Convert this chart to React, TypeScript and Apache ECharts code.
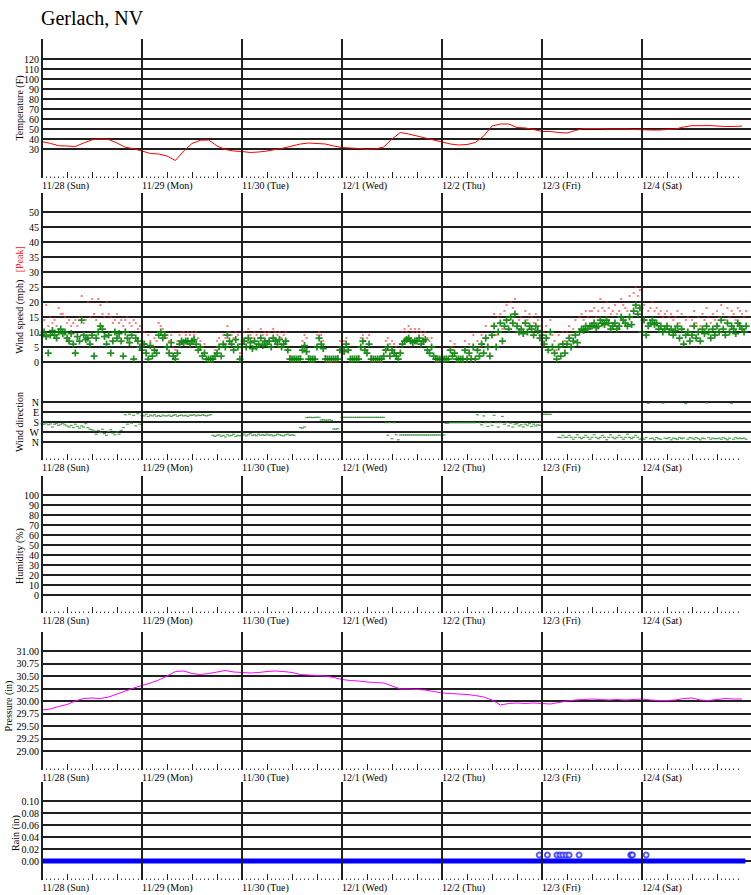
import React, { useEffect, useRef } from 'react';
import * as echarts from 'echarts';

// ---------- data (hours counted from 11/28 00:00) ----------
const DAY_LABELS = ['11/28 (Sun)', '11/29 (Mon)', '11/30 (Tue)', '12/1 (Wed)', '12/2 (Thu)', '12/3 (Fri)', '12/4 (Sat)'];

// temperature (F), one reading every 2 hours
const TEMP_STEP_H = 2;
const TEMP_F = [
  37.3, 35.6, 33.3, 33, 32.5, 36, 39.2, 40, 39.5, 36, 31.7, 30.2,
  28, 25.5, 25, 23, 18.5, 28, 35.5, 38.8, 39, 33, 29.5, 28,
  27.5, 26.5, 27, 28, 29.5, 31, 33, 35, 36, 35.5, 35, 33,
  31.5, 31, 30.5, 29.5, 30, 32, 40, 46.5, 45, 43, 41, 39,
  37, 35, 34, 34.5, 36.5, 43, 53, 55, 55, 51.5, 51, 49.5,
  47.5, 47.5, 46.5, 46, 48.5, 50.5, 50.5, 50.5, 50, 50, 50, 49.5,
  49.3, 49, 49, 49.5, 50, 52, 53.3, 53.3, 53.5, 53, 52.5, 52.5, 53,
];

// wind speed and peak (mph), one reading every 30 minutes
const WIND_STEP_H = 0.5;
const WIND_MPH = [
  9, 10, 8.5, 3, 9, 10.5, 9, 8, 10, 11, 9.5, 10,
  8, 7, 9.5, 6, 3, 8.5, 7, 14, 9, 7.5, 8, 6,
  9, 2, 8, 10, 12, 11, 8.5, 6, 9, 3, 7, 10,
  8, 9.5, 7, 2, 10, 8, 6.5, 9, 1, 8, 7, 5,
  4, 6, 3, 1, 5.5, 2, 4, 3, 9, 10, 8, 9,
  5, 3, 6.5, 2, 1, 3, 6, 7, 6.5, 7, 7, 6,
  7, 7.5, 6, 4, 5, 2, 3, 1, 1, 1, 1, 2,
  3, 5, 2, 6, 5, 9, 7, 6, 4, 7.5, 5, 1,
  6, 7, 5, 8, 6.5, 4.5, 7, 5, 6, 8, 5.5, 7,
  6, 7, 5, 8, 7, 6, 7.5, 5, 6, 7, 4, 1,
  1, 1, 1, 1, 1, 4, 5.5, 3.5, 1, 1, 1, 1,
  5, 8, 6, 4.5, 1, 1, 1, 1, 1, 1, 1, 4,
  5, 3.5, 6, 4, 1, 1, 1, 1, 1, 5, 7, 4,
  3, 6, 1, 1, 1, 1, 1, 1, 2, 4, 5, 2,
  4, 3, 2, 1, 3, 6, 7, 7.5, 8, 7, 6.5, 7,
  7, 8, 6, 7, 7.5, 4, 3, 5, 2, 1, 1, 1,
  1, 1, 1, 1, 4, 2, 3, 1, 1, 1, 1, 4,
  1, 3, 1, 5, 1, 4, 2, 6, 3, 8, 5, 2,
  9, 12, 5, 10, 13, 7, 12, 14, 11, 15, 13, 16,
  12, 10, 11, 9.5, 13, 10, 12, 11, 9, 12, 10.5, 8,
  9, 6, 8, 4, 10, 5, 3, 1, 5, 2, 6, 3,
  6, 8, 5, 7, 9, 6.5, 10, 11, 10.5, 12, 11, 12,
  12, 13, 11.5, 12, 14, 13, 12.5, 14, 13, 11, 12, 13,
  11, 12, 15, 14, 13, 12, 15, 12.5, 17, 19, 16, 18,
  10, 14, 9, 12, 13, 14, 12.5, 13, 11, 12, 10, 11,
  12, 10, 11, 9, 10.5, 12, 8, 11, 6, 9, 10, 7,
  9, 12, 8, 10, 7, 11, 9.5, 12, 10, 8, 11, 9,
  12, 10, 14, 11, 9, 13, 10, 12, 11, 9.5, 13, 12,
  11, 10, 12,
];
const PEAK_MPH = [
  13, 14, 19, 12, 15, 13, 14, 12, 18, 16, 16, 15,
  13, 14, 12, 13, 14, 12, 15, 22, 13, 14, 20, 15,
  21, 16, 14, 21, 19, 16, 15, 20, 16, 15, 13, 14,
  16, 13, 14, 12, 14, 15, 13, 12, 14, 13, 11, 12,
  8, 10, 6, 9, 7, 5, 8, 7, 13, 12, 11, 10,
  8, 7, 9, 5, 4, 7, 9, 10, 10, 9, 10, 9,
  10, 9, 10, 8, 7, 5, 6, 1, 0, 0, 1, 4,
  7, 8, 5, 9, 8, 12, 10, 9, 8, 10, 9, 3,
  9, 10, 8, 11, 9, 8, 10, 9, 8, 11, 9, 10,
  9, 10, 8, 11, 10, 9, 10, 8, 9, 10, 7, 2,
  0, 0, 1, 0, 2, 7, 9, 8, 2, 0, 0, 1,
  9, 10, 9, 7, 2, 0, 0, 0, 1, 0, 2, 7,
  9, 7, 8, 6, 0, 0, 1, 0, 2, 8, 9, 7,
  8, 9, 2, 0, 0, 1, 0, 0, 4, 7, 8, 6,
  7, 6, 5, 3, 6, 10, 11, 10, 12, 11, 10, 11,
  10, 11, 10, 9, 10, 8, 7, 8, 5, 0, 0, 1,
  0, 0, 0, 1, 7, 5, 6, 0, 0, 1, 0, 7,
  0, 6, 2, 9, 0, 7, 5, 9, 6, 12, 8, 5,
  12, 16, 9, 15, 16, 11, 17, 19, 14, 20, 18, 21,
  16, 14, 15, 13, 17, 14, 16, 15, 13, 16, 14, 12,
  13, 10, 12, 8, 14, 9, 7, 4, 9, 6, 10, 7,
  10, 12, 9, 11, 14, 10, 15, 16, 14, 17, 15, 17,
  17, 18, 15, 17, 21, 18, 17, 20, 18, 16, 17, 19,
  16, 17, 21, 19, 18, 17, 22, 17, 23, 25, 22, 24,
  15, 19, 14, 17, 18, 20, 17, 18, 16, 17, 15, 16,
  17, 15, 16, 14, 15, 17, 13, 16, 11, 14, 15, 12,
  14, 17, 13, 15, 12, 16, 14, 18, 15, 13, 16, 14,
  17, 15, 19, 16, 14, 18, 15, 17, 16, 14, 18, 17,
  16, 15, 17,
];
// wind direction (degrees), every 30 minutes; null = no reading
const WIND_DIR_DEG = [
  195, 200, 190, 205, 198, 225, 200, 195, 210, 200, 192, 205,
  215, 225, 210, 230, 200, 220, 235, 215, 225, 195, 230, 245,
  250, 260, 290, 255, 275, 245, 285, 300, 265, 250, 280, 295,
  270, 290, 255, 230, 115, 200, 110, 190, 120, 215, 105, 200,
  120, 125, 110, 130, 118, 125, 115, 128, 122, 130, 118, 125,
  125, 118, 130, 120, 115, 128, 122, 118, 125, 120, 130, 118,
  120, 115, 125, 118, 122, 115, 120, 125, 118, 115, 300, 310,
  300, 295, 310, 300, 315, 295, 305, 300, 290, 310, 300, 305,
  300, 290, 305, 295, 285, 300, 295, 305, 290, 300, 295, 300,
  290, 300, 295, 305, 300, 290, 295, 300, 305, 295, 290, 300,
  295, 300, null, null, 230, 235, 225, 140, 138, 138, 140, 138,
  138, 138, 162, 160, 163, 162, 160, 165, 243, 245, 240, null,
  138, 138, 138, 138, 138, 138, 138, 138, 138, 138, 138, 138,
  138, 138, 138, 138, 138, 138, 138, 138, 138, 186, 300, 185,
  330, 186, 295, 340, 297, 297, 297, 297, 297, 297, 297, 297,
  297, 297, 297, 297, 297, 297, 297, 297, 297, 297, 297, 297,
  297, 297, 192, 190, 186, 186, 186, 186, 186, 186, 186, 186,
  186, 186, 186, 186, 186, 115, 186, 205, 125, 186, 220, 186,
  210, 120, 186, 225, 186, 130, 200, 186, 215, 190, 225, 200,
  195, 215, 205, 225, 200, 210, 195, 220, 200, 215, 205, 210,
  111, 111, 110, 112, 111, null, null, null, 318, 320, 300, 318,
  318, 300, 318, 335, 318, 295, 318, 330, 318, 300, 318, 335,
  318, 295, 318, 330, 318, 300, 318, 340, 318, 295, 318, 330,
  318, 300, 318, 335, 318, 290, 318, 330, 318, 300, 318, 335,
  325, 335, 320, 12, 330, 325, 340, 320, 330, 335, 10, 325,
  330, 320, 340, 325, 330, 335, 320, 330, 325, 15, 335, 320,
  325, 335, 320, 330, 340, 325, 330, 8, 320, 335, 325, 330,
  330, 325, 335, 320, 330, 340, 325, 12, 335, 320, 330, 325,
  330, 325, 335,
];

// pressure (in), one reading every 2 hours
const PRESSURE_STEP_H = 2;
const PRESSURE_IN = [
  29.82, 29.84, 29.89, 29.93, 30.0, 30.05, 30.06, 30.05, 30.08, 30.14, 30.2, 30.26,
  30.31, 30.36, 30.42, 30.5, 30.59, 30.6, 30.55, 30.53, 30.55, 30.58, 30.61, 30.58,
  30.57, 30.56, 30.57, 30.59, 30.6, 30.59, 30.57, 30.53, 30.52, 30.51, 30.5, 30.47,
  30.43, 30.41, 30.4, 30.38, 30.37, 30.36, 30.3, 30.24, 30.24, 30.23, 30.22, 30.19,
  30.16, 30.15, 30.14, 30.13, 30.11, 30.08, 30.02, 29.92, 29.95, 29.96, 29.95, 29.96,
  29.95, 29.94, 29.97, 30.0, 30.02, 30.03, 30.04, 30.03, 30.02, 30.03, 30.02, 30.03,
  30.04, 30.02, 30.01, 30.01, 30.02, 30.05, 30.06, 30.02, 30.01, 30.03, 30.05, 30.04, 30.04,
];

// rain (in)
const RAIN_BASE_HOURS = [0, 168.8];
const RAIN_BASE_IN = [0, 0];
const RAIN_TRACE_HOURS = [119.35, 121.3, 123.6, 124.3, 125.0, 125.8, 126.5, 128.9, 141.3, 141.5, 141.7, 145.0];
const RAIN_TRACE_IN = [0.01, 0.01, 0.01, 0.01, 0.01, 0.01, 0.01, 0.01, 0.01, 0.01, 0.01, 0.01];

// ---------- layout ----------
const FONT = "'Liberation Serif', 'Times New Roman', serif";
const W = 751;
const H = 895;
const LEFT = 42;
const PX_PER_H = 100 / 24;
const FRAME_MAX = 167.5;
const DATA_MAX = (W - LEFT) / PX_PER_H;
const LINE = '#202020';

const FRAMES = [
  { top: 39, bottom: 178 },
  { top: 193, bottom: 460 },
  { top: 476, bottom: 613 },
  { top: 632, bottom: 770 },
  { top: 782, bottom: 880 },
];
const DATA_GRIDS = [
  { top: 59, height: 90 },   // temperature
  { top: 212, height: 150 }, // wind speed
  { top: 402, height: 40 },  // wind direction
  { top: 495, height: 100 }, // humidity
  { top: 651, height: 100 }, // pressure
  { top: 801, height: 60 },  // rain
];

const DAY_HOURS = DAY_LABELS.map((_, i) => i * 24);
const SIX_HOURS: number[] = [];
for (let h = 0; h <= FRAME_MAX; h += 6) SIX_HOURS.push(h);

const PLUS = 'path://M3,0H5V3H8V5H5V8H3V5H0V3H3Z';

function buildOption() {
  const grid: any[] = [];
  const xAxis: any[] = [];
  const yAxis: any[] = [];
  const series: any[] = [];

  FRAMES.forEach((f, i) => {
    grid.push({ left: LEFT, top: f.top, width: FRAME_MAX * PX_PER_H, height: f.bottom - f.top });
    xAxis.push({
      type: 'value', gridIndex: i, min: 0, max: FRAME_MAX, interval: 6,
      axisLine: { show: false },
      axisTick: { show: true, inside: true, length: 6, customValues: SIX_HOURS, lineStyle: { color: LINE, width: 1 } },
      minorTick: { show: true, splitNumber: 6, length: 1.5, lineStyle: { color: '#444', width: 1 } },
      splitLine: { show: false },
      axisLabel: {
        show: true, customValues: DAY_HOURS, align: 'left', margin: 2,
        fontSize: 10, fontFamily: FONT, color: '#000',
        formatter: (v: number) => {
          const d = Math.round(v / 24);
          return Math.abs(v - d * 24) < 1e-6 && DAY_LABELS[d] ? DAY_LABELS[d] : '';
        },
      },
    });
    yAxis.push({ type: 'value', gridIndex: i, min: 0, max: 1, show: false });
    series.push({
      type: 'line', xAxisIndex: i, yAxisIndex: i, data: [], symbol: 'none', silent: true,
      markLine: {
        silent: true, symbol: ['none', 'none'], label: { show: false },
        lineStyle: { color: LINE, width: 2, type: 'solid' },
        emphasis: { disabled: true },
        data: DAY_HOURS.map((h) => ({ xAxis: h })),
      },
    });
  });

  const base = FRAMES.length;
  DATA_GRIDS.forEach((g, j) => {
    grid.push({ left: LEFT, top: g.top, width: W - LEFT, height: g.height });
    xAxis.push({ type: 'value', gridIndex: base + j, min: 0, max: DATA_MAX, show: false });
  });

  const yCommon = (j: number, extra: any) => ({
    type: 'value', gridIndex: base + j,
    axisLine: { show: false }, axisTick: { show: false },
    splitLine: { show: true, lineStyle: { color: LINE, width: 2 } },
    axisLabel: { fontSize: 10, fontFamily: FONT, color: '#000', margin: 3 },
    ...extra,
  });
  yAxis.push(yCommon(0, { min: 30, max: 120, interval: 10 }));
  yAxis.push(yCommon(1, { min: 0, max: 50, interval: 5 }));
  const dirNames: Record<number, string> = { 0: 'N', 90: 'E', 180: 'S', 270: 'W', 360: 'N' };
  yAxis.push(yCommon(2, {
    min: 0, max: 360, interval: 90, inverse: true,
    axisLabel: { fontSize: 10, fontFamily: FONT, color: '#000', margin: 3, formatter: (v: number) => dirNames[Math.round(v)] ?? '' },
  }));
  yAxis.push(yCommon(3, { min: 0, max: 100, interval: 10 }));
  yAxis.push(yCommon(4, {
    min: 29, max: 31, interval: 0.25,
    axisLabel: { fontSize: 10, fontFamily: FONT, color: '#000', margin: 3, formatter: (v: number) => v.toFixed(2) },
  }));
  yAxis.push(yCommon(5, {
    min: 0, max: 0.1, interval: 0.02,
    axisLabel: { fontSize: 10, fontFamily: FONT, color: '#000', margin: 3, formatter: (v: number) => v.toFixed(2) },
  }));

  const ax = (j: number) => ({ xAxisIndex: base + j, yAxisIndex: base + j });

  series.push({
    type: 'line', ...ax(0), symbol: 'none', clip: false, silent: true,
    lineStyle: { color: '#ff0000', width: 1 },
    data: TEMP_F.map((v, i) => [i * TEMP_STEP_H, v]),
  });
  series.push({
    type: 'scatter', ...ax(1), symbol: 'rect', symbolSize: [2, 1.2], silent: true,
    itemStyle: { color: '#ff1a1a', opacity: 0.95 },
    data: PEAK_MPH.map((v, i) => [i * WIND_STEP_H, v]),
  });
  series.push({
    type: 'scatter', ...ax(1), symbol: PLUS, symbolSize: 7, silent: true,
    itemStyle: { color: '#0b840b', opacity: 0.9 },
    data: WIND_MPH.map((v, i) => [i * WIND_STEP_H, v]),
  });
  series.push({
    type: 'scatter', ...ax(2), symbol: 'rect', symbolSize: [3, 1.2], silent: true,
    itemStyle: { color: '#2a8a2a', opacity: 0.8 },
    data: WIND_DIR_DEG.map((v, i) => [i * WIND_STEP_H, v]).filter((d) => d[1] !== null),
  });
  series.push({
    type: 'line', ...ax(4), symbol: 'none', clip: false, silent: true,
    lineStyle: { color: '#ff00ff', width: 1 },
    data: PRESSURE_IN.map((v, i) => [i * PRESSURE_STEP_H, v]),
  });
  series.push({
    type: 'line', ...ax(5), symbol: 'none', clip: false, silent: true,
    lineStyle: { color: '#0000ff', width: 5 },
    data: RAIN_BASE_HOURS.map((h, i) => [h, RAIN_BASE_IN[i]]),
  });
  series.push({
    type: 'scatter', ...ax(5), symbol: 'emptyCircle', symbolSize: 5, silent: true,
    itemStyle: { color: '#3030ff', borderColor: '#3030ff', borderWidth: 1 },
    data: RAIN_TRACE_HOURS.map((h, i) => [h, RAIN_TRACE_IN[i]]),
  });

  const nameText = (x: number, y: number, text: string, rich?: any) => ({
    type: 'text', x, y, rotation: Math.PI / 2, silent: true,
    style: { text, fontSize: 10, fontFamily: FONT, fill: '#000', align: 'center', verticalAlign: 'middle', rich },
  });

  return {
    animation: false,
    textStyle: { fontFamily: FONT },
    title: {
      text: 'Gerlach, NV', left: 41, top: 8, padding: 0,
      textStyle: { fontSize: 20, fontWeight: 'normal', color: '#000', fontFamily: FONT },
    },
    grid, xAxis, yAxis, series,
    graphic: [
      nameText(19, 108, 'Temperature (F)'),
      nameText(19, 300, '{a|Wind speed (mph)}   {b|[Peak]}', {
        a: { fontSize: 10, fontFamily: FONT, fill: '#000', color: '#000' },
        b: { fontSize: 10, fontFamily: FONT, fill: '#ff2020', color: '#ff2020' },
      }),
      nameText(19, 422, 'Wind direction'),
      nameText(19, 556, 'Humidity (%)'),
      nameText(8, 706, 'Pressure (in)'),
      nameText(15, 833, 'Rain (in)'),
    ],
  };
}

export default function App() {
  const ref = useRef<HTMLDivElement>(null);
  useEffect(() => {
    if (!ref.current) return;
    const chart = echarts.init(ref.current, undefined, { renderer: 'svg' });
    chart.setOption(buildOption() as any);
    return () => chart.dispose();
  }, []);
  return (
    <div
      ref={ref}
      style={{ position: 'fixed', left: 0, top: 0, width: W, height: H, background: '#fff' }}
    />
  );
}
